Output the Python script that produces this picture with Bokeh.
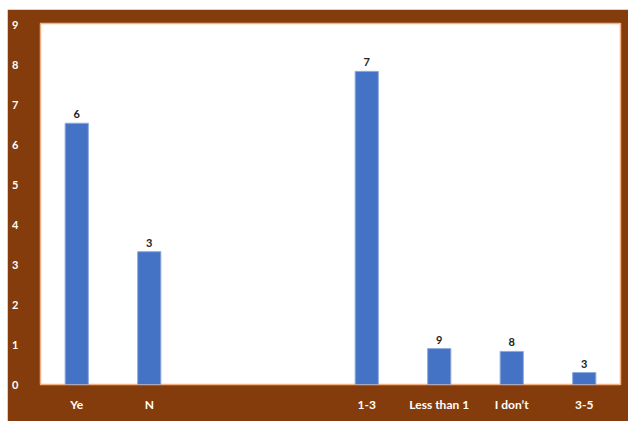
from bokeh.plotting import figure
from bokeh.models import ColumnDataSource, FixedTicker, FactorRange, Range1d
from bokeh.core.properties import value
from bokeh.embed import file_html
from bokeh.resources import INLINE

# slots on the x axis (two empty slots in the middle)
slots = ["Ye", "N", " ", "  ", "1-3", "Less than 1", "I don\u2019t", "3-5"]
categories = ["Ye", "N", "1-3", "Less than 1", "I don\u2019t", "3-5"]
values = [6.55, 3.33, 7.85, 0.90, 0.83, 0.30]
bar_labels = ["6", "3", "7", "9", "8", "3"]
y_ticks = [0, 1, 2, 3, 4, 5, 6, 7, 8, 9]

BROWN = "#843C0C"
BLUE = "#4472C4"

src = ColumnDataSource(dict(cat=categories, val=values, lab=bar_labels))

p = figure(width=621, height=412, x_range=FactorRange(*slots), y_range=Range1d(0, 9.05),
           output_backend="svg", toolbar_location=None,
           min_border_left=33, min_border_top=14, min_border_right=8, min_border_bottom=37)
p.margin = (9, 0, 0, 7)
p.border_fill_color = BROWN
p.background_fill_color = "white"
p.outline_line_color = "#F4B183"
p.outline_line_width = 1.5

p.vbar(x="cat", top="val", width=0.32, source=src, fill_color=BLUE, line_color="#8FAADC", line_width=1)
p.text(x="cat", y="val", text="lab", source=src, text_align="center", text_baseline="bottom",
       y_offset=-5, text_font=value("Lato"), text_font_style="bold", text_font_size="11px",
       text_color="#222222")

p.xgrid.visible = False
p.ygrid.visible = False

p.yaxis.ticker = FixedTicker(ticks=y_ticks)
p.yaxis.axis_line_color = None
p.yaxis.major_tick_line_color = None
p.yaxis.minor_tick_line_color = None
p.yaxis.major_label_text_color = "white"
p.yaxis.major_label_text_font = "Lato"
p.yaxis.major_label_text_font_style = "bold"
p.yaxis.major_label_text_font_size = "11px"
p.yaxis.major_label_standoff = 16

p.xaxis.axis_line_color = None
p.xaxis.major_tick_line_color = None
p.xaxis.minor_tick_line_color = None
p.xaxis.major_label_text_color = "white"
p.xaxis.major_label_text_font = "Lato"
p.xaxis.major_label_text_font_style = "bold"
p.xaxis.major_label_text_font_size = "12px"
p.xaxis.major_label_standoff = 6

open("out.html", "w").write(file_html(p, INLINE))
